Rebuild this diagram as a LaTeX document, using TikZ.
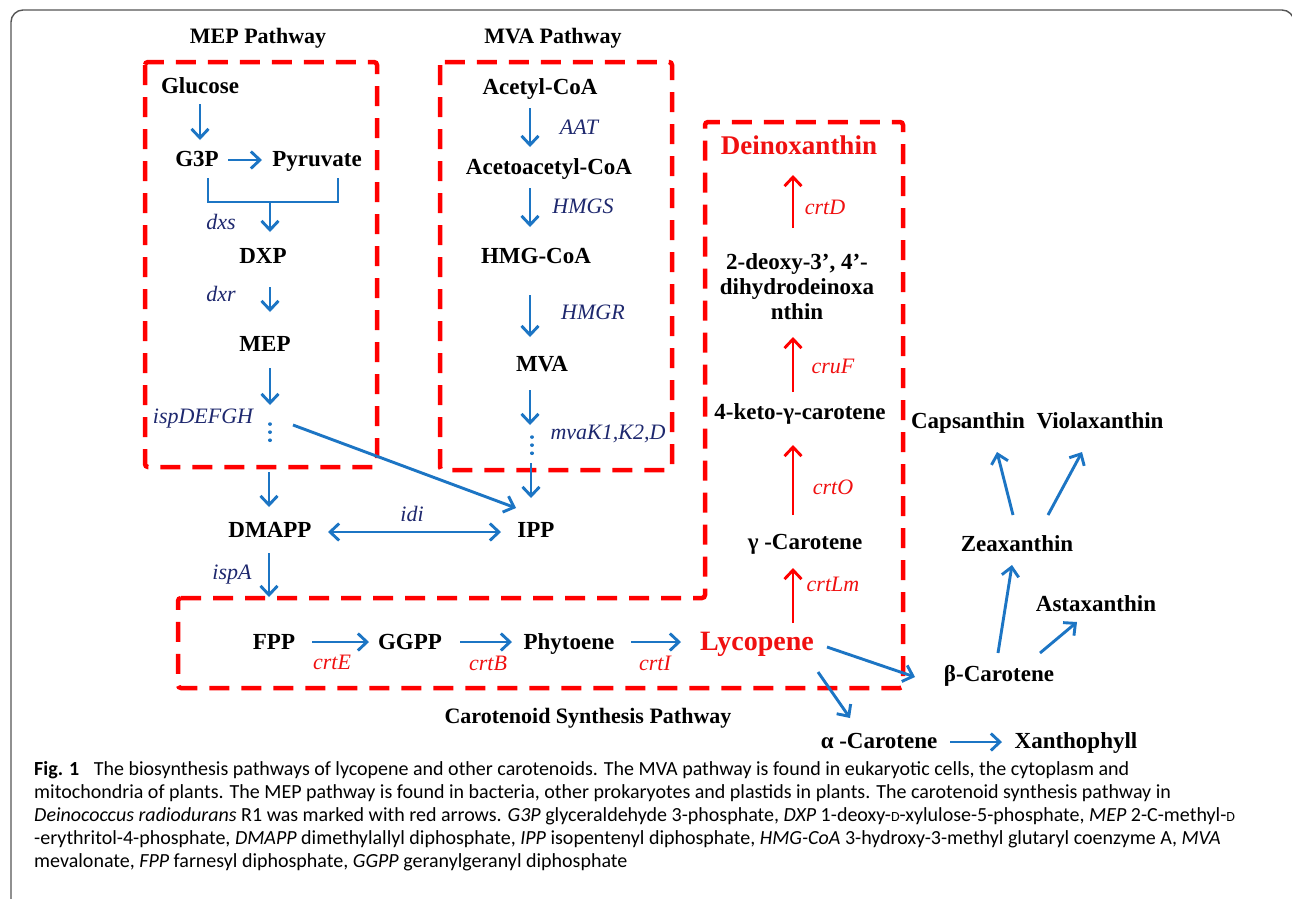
\documentclass[tikz,border=0pt]{standalone}
\usepackage{fontspec}
\setmainfont{Liberation Serif}
\newfontfamily\capfont{Carlito}
\usetikzlibrary{arrows.meta}
\definecolor{arrblue}{RGB}{28,117,196}
\definecolor{enzblue}{RGB}{30,40,110}
\definecolor{boxred}{RGB}{255,0,0}
\definecolor{txtred}{RGB}{240,16,16}
\definecolor{frameg}{RGB}{85,85,85}
\newcommand{\smD}{{\fontsize{14}{14}\selectfont D}}
\tikzset{
  lbl/.style={font=\fontsize{23}{26}\selectfont\bfseries, text=black, inner sep=0pt, text height=17pt, text depth=4pt},
  ttl/.style={lbl, font=\fontsize{22}{26}\selectfont\bfseries},
  rlbl/.style={lbl, text=txtred, font=\fontsize{28}{30}\selectfont\bfseries, text height=20pt, text depth=5pt},
  enz/.style={font=\fontsize{22}{24}\selectfont\itshape, text=enzblue, inner sep=0pt, text height=16pt, text depth=4pt},
  renz/.style={enz, text=txtred},
  barr/.style={draw=arrblue, line width=2.9pt, -{Straight Barb[length=9pt,width=17pt]}},
  barr2/.style={draw=arrblue, line width=2.9pt, {Straight Barb[length=9pt,width=17pt]}-{Straight Barb[length=9pt,width=17pt]}},
  rarr/.style={draw=red, line width=2.9pt, -{Straight Barb[length=9pt,width=17pt]}},
  bline/.style={draw=arrblue, line width=2.9pt},
  dotln/.style={draw=arrblue, line width=3.5pt, line cap=round, dash pattern=on 0.1pt off 8pt},
  rbox/.style={draw=boxred, line width=4.5pt, dash pattern=on 20pt off 12pt, rounded corners=3pt},
  frameline/.style={draw=frameg, line width=1.4pt, rounded corners=12pt},
  capline/.style={anchor=base west, inner sep=0pt, font=\capfont\fontsize{20}{23}\selectfont}
}
\begin{document}
\begin{tikzpicture}[x=1pt,y=-1pt]
\useasboundingbox (0,0) rectangle (1292,898);
\fill[white] (0,0) rectangle (1292,898);
% outer frame
\draw[frameline] (11,905) -- (11,10) -- (1294,10) -- (1294,80);

% dashed boxes
\draw[rbox] (145,62) rectangle (377,467);
\draw[rbox] (440,62) rectangle (672,470);
\draw[rbox] (178,598) -- (705,598) -- (705,122) -- (903,122) -- (903,688) -- (178,688) -- cycle;

% titles
\node[ttl] (mept) at (258,37) {MEP Pathway};
\node[ttl] (mvat) at (553,37) {MVA Pathway};
\node[ttl] (cart) at (588,717) {Carotenoid Synthesis Pathway};

% MEP pathway
\node[lbl] (glucose) at (200,87) {Glucose};
\node[lbl] (g3p) at (197,160) {G3P};
\node[lbl] (pyruvate) at (317,160) {Pyruvate};
\node[lbl] (dxp) at (263,257) {DXP};
\node[lbl] (mep) at (265,345) {MEP};
\coordinate (mdots) at (270,432);
\node[enz] (dxs) at (221,223) {dxs};
\node[enz] (dxr) at (221,295) {dxr};
\node[enz] (isp) at (203,417) {ispDEFGH};

% MVA pathway
\node[lbl] (acetyl) at (540,88) {Acetyl-CoA};
\node[lbl] (acetoacetyl) at (549,168) {Acetoacetyl-CoA};
\node[lbl] (hmgcoa) at (536,257) {HMG-CoA};
\node[lbl] (mva) at (542,365) {MVA};
\coordinate (vdots) at (532,448);
\node[enz] (aat) at (579,128) {AAT};
\node[enz] (hmgs) at (583,207) {HMGS};
\node[enz] (hmgr) at (593,313) {HMGR};
\node[enz] (mvak) at (608,433) {mvaK1,K2,D};

% DMAPP / IPP
\node[lbl] (dmapp) at (270,531) {DMAPP};
\node[lbl] (ipp) at (536,531) {IPP};
\node[enz] (idi) at (412,515) {idi};
\node[enz] (ispa) at (232,573) {ispA};
\coordinate (boxtop) at (269,597);

% carotenoid row
\node[lbl] (fpp) at (274,643) {FPP};
\node[lbl] (ggpp) at (410,643) {GGPP};
\node[lbl] (phytoene) at (569,643) {Phytoene};
\node[rlbl] (lycopene) at (757,643) {Lycopene};
\node[renz] (crte) at (332,663) {crtE};
\node[renz] (crtb) at (488,664) {crtB};
\node[renz] (crti) at (655,664) {crtI};

% deinoxanthin column
\node[lbl] (gcar) at (805,543) {γ -Carotene};
\node[lbl] (keto) at (800,413) {4-keto-γ-carotene};
\node[lbl, align=center, text height=, text depth=, font=\fontsize{23}{25}\selectfont\bfseries] (deoxy) at (797,287) {2-deoxy-3’, 4’-\\dihydrodeinoxa\\nthin};
\node[rlbl, font=\fontsize{27}{30}\selectfont\bfseries] (deino) at (799,147) {Deinoxanthin};
\node[renz] (crtlm) at (833,585) {crtLm};
\node[renz] (crto) at (833,488) {crtO};
\node[renz] (cruf) at (833,367) {cruF};
\node[renz] (crtd) at (825,208) {crtD};

% right side
\node[lbl] (caps) at (968,422) {Capsanthin};
\node[lbl] (viola) at (1100,422) {Violaxanthin};
\node[lbl] (zea) at (1017,545) {Zeaxanthin};
\node[lbl] (asta) at (1096,605) {Astaxanthin};
\node[lbl] (bcar) at (999,675) {β-Carotene};
\node[lbl] (acar) at (879,742) {α -Carotene};
\node[lbl] (xan) at (1076,742) {Xanthophyll};

% MEP arrows
\draw[barr] ([shift={(0,17)}]glucose.center) -- ([shift={(3,-20)}]g3p.center);
\draw[barr] ([shift={(31,0)}]g3p.center) -- ([shift={(-55,0)}]pyruvate.center);
\draw[bline] ([shift={(11,18)}]g3p.center) -- ([shift={(11,42)}]g3p.center) -- ([shift={(21,42)}]pyruvate.center) -- ([shift={(21,18)}]pyruvate.center);
\draw[barr] ([shift={(7,-55)}]dxp.center) -- ([shift={(7,-25)}]dxp.center);
\draw[barr] ([shift={(7,30)}]dxp.center) -- ([shift={(5,-33)}]mep.center);
\draw[barr] ([shift={(5,23)}]mep.center) -- ([shift={(0,-27)}]mdots);
\draw[dotln] ([shift={(0,-8)}]mdots) -- ([shift={(0,9)}]mdots);
\draw[barr] ([shift={(-1,40)}]mdots) -- ([shift={(-1,-24)}]dmapp.center);
\draw[barr] ([shift={(23,-7)}]mdots) -- ([shift={(-20,-23)}]ipp.center);

% MVA arrows
\draw[barr] ([shift={(-10,20)}]acetyl.center) -- ([shift={(-19,-21)}]acetoacetyl.center);
\draw[barr] ([shift={(-19,20)}]acetoacetyl.center) -- ([shift={(-6,-30)}]hmgcoa.center);
\draw[barr] ([shift={(-6,38)}]hmgcoa.center) -- ([shift={(-12,-28)}]mva.center);
\draw[barr] ([shift={(-12,25)}]mva.center) -- ([shift={(-2,-23)}]vdots);
\draw[dotln] ([shift={(0,-11)}]vdots) -- ([shift={(0,12)}]vdots);
\draw[barr] ([shift={(-1,15)}]vdots) -- ([shift={(-5,-33)}]ipp.center);

% DMAPP / IPP arrows
\draw[barr2] ([shift={(58,1)}]dmapp.center) -- ([shift={(-35,1)}]ipp.center);
\draw[barr] ([shift={(-1,22)}]dmapp.center) -- (boxtop);

% carotenoid row arrows
\draw[barr] ([shift={(38,-1)}]fpp.center) -- ([shift={(-41,-1)}]ggpp.center);
\draw[barr] ([shift={(50,-1)}]ggpp.center) -- ([shift={(-57,-1)}]phytoene.center);
\draw[barr] ([shift={(62,-1)}]phytoene.center) -- ([shift={(-76,-1)}]lycopene.center);

% red arrows
\draw[rarr] ([shift={(36,-20)}]lycopene.center) -- ([shift={(-12,25)}]gcar.center);
\draw[rarr] ([shift={(-12,-28)}]gcar.center) -- ([shift={(-7,32)}]keto.center);
\draw[rarr] ([shift={(-7,-21)}]keto.center) -- ([shift={(-4,50)}]deoxy.center);
\draw[rarr] ([shift={(-4,-59)}]deoxy.center) -- ([shift={(-6,28)}]deino.center);

% right side arrows
\draw[barr] ([shift={(70,4)}]lycopene.center) -- ([shift={(-84,2)}]bcar.center);
\draw[barr] ([shift={(61,29)}]lycopene.center) -- ([shift={(-29,-24)}]acar.center);
\draw[barr] ([shift={(71,0)}]acar.center) -- ([shift={(-74,0)}]xan.center);
\draw[barr] ([shift={(-1,-22)}]bcar.center) -- ([shift={(-5,20)}]zea.center);
\draw[barr] ([shift={(41,-22)}]bcar.center) -- ([shift={(-19,17)}]asta.center);
\draw[barr] ([shift={(-4,-30)}]zea.center) -- ([shift={(29,30)}]caps.center);
\draw[barr] ([shift={(31,-30)}]zea.center) -- ([shift={(-18,30)}]viola.center);

% caption
\node[capline] (cap1) at (34,775) {\textbf{Fig. 1}\hspace{0.5em} The biosynthesis pathways of lycopene and other carotenoids. The MVA pathway is found in eukaryotic cells, the cytoplasm and};
\node[capline] (cap2) at (34,798) {mitochondria of plants. The MEP pathway is found in bacteria, other prokaryotes and plastids in plants. The carotenoid synthesis pathway in};
\node[capline] (cap3) at (34,821) {\textit{Deinococcus radiodurans} R1 was marked with red arrows. \textit{G3P} glyceraldehyde 3-phosphate, \textit{DXP} 1-deoxy-\smD-xylulose-5-phosphate, \textit{MEP} 2-C-methyl-\smD};
\node[capline] (cap4) at (34,844) {-erythritol-4-phosphate, \textit{DMAPP} dimethylallyl diphosphate, \textit{IPP} isopentenyl diphosphate, \textit{HMG-CoA} 3-hydroxy-3-methyl glutaryl coenzyme A, \textit{MVA}};
\node[capline] (cap5) at (34,867) {mevalonate, \textit{FPP} farnesyl diphosphate, \textit{GGPP} geranylgeranyl diphosphate};
\end{tikzpicture}
\end{document}
